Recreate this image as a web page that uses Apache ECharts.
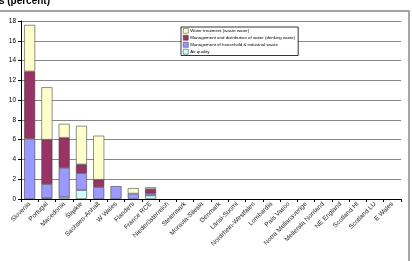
<!DOCTYPE html>
<html><head><meta charset="utf-8">
<script src="https://cdn.jsdelivr.net/npm/echarts@6/dist/echarts.min.js"></script>
<style>html,body{margin:0;padding:0;background:#fff;}#c{width:412px;height:261px;}</style>
</head><body><div id="c"></div>
<script>
const categories = ['Slovenia','Portugal','Macedonia','Śląskie','Sachsen-Anhalt','W Wales','Flanders','France RCE','Niederösterreich','Steiermark','Moravia-Silesia','Denmark','Länsi-Suomi','Nordrhein-Westfalen','Lombardia','País Vasco','Norra Mellansverige','Mellersta Norrland','NE England','Scotland HI','Scotland LU','E Wales'];
const airQuality = [0, 0.1, 0.2, 0.9, 0, 0, 0, 0.35, 0,0,0,0,0,0,0,0,0,0,0,0,0,0];
const wasteMgmt = [6.1, 1.4, 2.95, 1.7, 1.2, 1.3, 0.55, 0.2, 0,0,0,0,0,0,0,0,0,0,0,0,0,0];
const waterDistribution = [6.8, 4.5, 3.05, 0.9, 0.75, 0, 0, 0.45, 0,0,0,0,0,0,0,0,0,0,0,0,0,0];
const waterTreatment = [4.7, 5.3, 1.4, 3.9, 4.45, 0, 0.55, 0.18, 0,0,0,0,0,0,0,0,0,0,0,0,0,0];
const yTicks = [0,2,4,6,8,10,12,14,16,18];
const names = ['Water treatment (waste water)','Management and distribution of water (drinking water)','Management of household & industrial waste','Air quality'];

const font = 'Liberation Sans';
const mk = (name, data, color) => ({
  name, type:'bar', stack:'s', data: data.map(v => v === 0 ? '-' : v), barWidth:11,
  itemStyle:{color, borderColor:'#444', borderWidth:0.6},
  emphasis:{disabled:true}
});
const chart = echarts.init(document.getElementById('c'), null, {renderer:'canvas'});
chart.setOption({
  animation:false,
  textStyle:{fontFamily:font},
  grid:{left:21, right:11, top:21, bottom:62, containLabel:false},
  graphic:[
    {type:'rect', shape:{x:-3, y:11, width:412, height:260}, style:{fill:'none', stroke:'#888', lineWidth:1.5}, z:-1},
    {type:'text', x:-5, y:-4, style:{text:'rs (percent)', font:'bold 10px "Liberation Sans"', fill:'#000'}}
  ],
  xAxis:{type:'category', data:categories, boundaryGap:true,
    axisLine:{lineStyle:{color:'#000', width:1}},
    axisTick:{show:true, interval:0, length:3, lineStyle:{color:'#000'}},
    axisLabel:{interval:0, rotate:45, fontSize:6.5, color:'#222', margin:4, fontFamily:font}
  },
  yAxis:{type:'value', min:yTicks[0], max:yTicks[yTicks.length-1], interval:2,
    axisLine:{show:true, lineStyle:{color:'#000'}},
    axisTick:{show:true, length:3, lineStyle:{color:'#000'}},
    axisLabel:{fontSize:6.5, color:'#000', margin:5, fontFamily:font},
    splitLine:{lineStyle:{color:'#888', width:1}}
  },
  legend:{orient:'vertical', left:181, top:27, data:names,
    itemWidth:5, itemHeight:5, itemGap:1.5, padding:[1,3,1,2],
    backgroundColor:'#fff', borderColor:'#000', borderWidth:0.8,
    itemStyle:{borderWidth:0.5, borderColor:'#333'},
    textStyle:{fontSize:4.4, color:'#000', fontFamily:font, padding:[0,0,0,-3]},
    icon:'rect'
  },
  series:[
    mk(names[3], airQuality, '#CCFFFF'),
    mk(names[2], wasteMgmt, '#9999FF'),
    mk(names[1], waterDistribution, '#993366'),
    mk(names[0], waterTreatment, '#FFFFCC')
  ]
});
</script></body></html>
